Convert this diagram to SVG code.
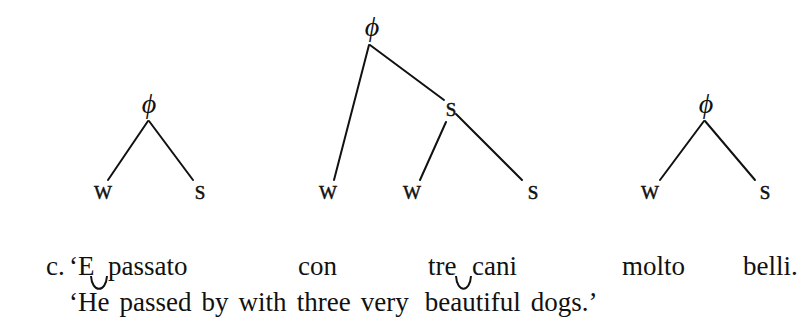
<svg xmlns="http://www.w3.org/2000/svg" width="811" height="336" viewBox="0 0 811 336">
<style>
.edge{stroke:#111;stroke-width:2;fill:none;stroke-linecap:round}
.phi{font-family:"Liberation Serif","DejaVu Serif",serif;font-style:italic;font-size:28px;fill:#111;text-anchor:middle}
.lab{font-family:"Liberation Serif","DejaVu Serif",serif;font-size:19px;fill:#111;stroke:#111;stroke-width:0.5;text-anchor:middle}
.txt{font-family:"Liberation Serif",serif;font-size:27px;fill:#111}
.tie{stroke:#111;stroke-width:2;fill:none}
</style>
<rect width="811" height="336" fill="#fff"/>
<g id="connectors">
<line class="edge" x1="148" y1="121" x2="108" y2="180"/>
<line class="edge" x1="149" y1="121" x2="193" y2="180"/>
<line class="edge" x1="369" y1="45" x2="334" y2="180"/>
<line class="edge" x1="370" y1="45" x2="444" y2="100"/>
<line class="edge" x1="446" y1="122" x2="420" y2="180"/>
<line class="edge" x1="456" y1="114" x2="522" y2="180"/>
<line class="edge" x1="704" y1="121" x2="660" y2="180"/>
<line class="edge" x1="705" y1="121" x2="755" y2="180"/>
</g>
<g id="t1-root"><text class="phi" x="149" y="113">ϕ</text></g>
<g id="t1-w"><text class="lab" x="103" y="199">W</text></g>
<g id="t1-s"><text class="lab" x="200" y="199">S</text></g>
<g id="t2-root"><text class="phi" x="372" y="36">ϕ</text></g>
<g id="t2-s-mid"><text class="lab" x="451" y="116">S</text></g>
<g id="t2-w1"><text class="lab" x="328" y="199">W</text></g>
<g id="t2-w2"><text class="lab" x="412" y="199">W</text></g>
<g id="t2-s"><text class="lab" x="533" y="199">S</text></g>
<g id="t3-root"><text class="phi" x="706" y="113">ϕ</text></g>
<g id="t3-w"><text class="lab" x="650" y="199">W</text></g>
<g id="t3-s"><text class="lab" x="765" y="199">S</text></g>
<g id="gloss">
<text class="txt" x="46" y="275">c.</text>
<text class="txt" x="69" y="275">‘E</text>
<text class="txt" x="108" y="275">passato</text>
<text class="txt" x="298" y="275">con</text>
<text class="txt" x="428" y="275">tre</text>
<text class="txt" x="472" y="275">cani</text>
<text class="txt" x="622" y="275">molto</text>
<text class="txt" x="743" y="275">belli.</text>
<path class="tie" d="M91,276 C92,293 106,293 107,276"/>
<path class="tie" d="M456,276 C457,293 470,293 471,276"/>
<text class="txt" x="69" y="311" style="word-spacing:3.3px">‘He passed by with three very <tspan dx="6">beautiful</tspan> dogs.’</text>
</g>
</svg>
